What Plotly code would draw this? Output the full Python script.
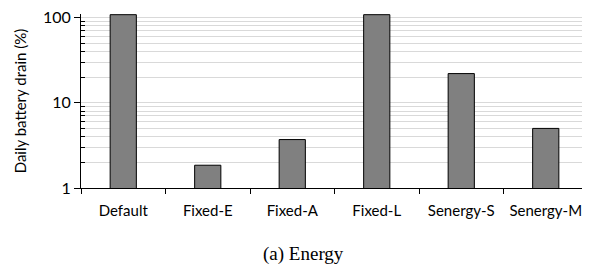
import plotly.graph_objects as go

categories = ["Default", "Fixed-E", "Fixed-A", "Fixed-L", "Senergy-S", "Senergy-M"]
drain_pct = [108, 1.85, 3.7, 108, 22, 5.0]
major_ticks = [1, 10, 100]
major_labels = ["1", "10", "100"]

minor_vals = [m * 10 ** d for d in range(0, 3) for m in range(2, 10) if m * 10 ** d <= 110]

fig = go.Figure()
fig.add_trace(go.Bar(
    x=categories, y=drain_pct,
    marker=dict(color="#808080", line=dict(color="#000000", width=1)),
    width=0.31,
))

# page body has an 8px default margin, so the figure is 8px smaller
fig.update_layout(
    width=582, height=256,
    margin=dict(l=73, r=2, t=6, b=76),
    plot_bgcolor="white", paper_bgcolor="white",
    showlegend=False,
    font=dict(family="Lato", size=16, color="#000000"),
)
fig.update_xaxes(
    type="category",
    tickson="boundaries",
    tickangle=0,
    automargin=False,
    ticklabelstandoff=9,
    ticks="outside", ticklen=5, tickcolor="#000000",
    showline=True, linecolor="#000000", linewidth=1,
    showgrid=False,
    tickfont=dict(family="Lato", size=15),
)
fig.update_yaxes(
    type="log",
    range=[0, 2.0414],
    automargin=False,
    ticklabeloverflow="allow",
    tickvals=major_ticks, ticktext=major_labels,
    ticks="outside", ticklen=6, tickcolor="#000000",
    showline=True, linecolor="#000000", linewidth=1,
    showgrid=True, gridcolor="#d9d9d9", gridwidth=1,
    zeroline=False,
    minor=dict(tickvals=minor_vals, ticks="inside", ticklen=4, tickcolor="#000000",
               showgrid=True, gridcolor="#d9d9d9", gridwidth=1),
    tickfont=dict(family="Lato", size=16),
    title=dict(text="Daily battery drain (%)", font=dict(family="Lato", size=15), standoff=12),
)
fig.add_annotation(
    text="(a) Energy", xref="paper", yref="paper",
    x=(303 - 81) / 507, y=-0.38, xanchor="center", yanchor="middle",
    showarrow=False, font=dict(family="Liberation Serif", size=19, color="#000000"),
)
fig.write_html("out.html")
